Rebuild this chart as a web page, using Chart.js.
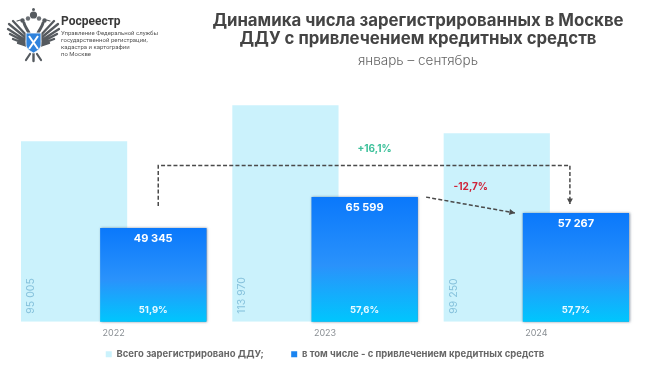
<!DOCTYPE html>
<html lang="ru"><head><meta charset="utf-8">
<style>
html,body{margin:0;padding:0;background:#fff;width:650px;height:365px;overflow:hidden}
#wrap{position:relative;width:650px;height:365px}
canvas{position:absolute;left:0;top:0}
.t{position:absolute;white-space:nowrap;font-family:Roboto,sans-serif}
#title{left:168px;width:500px;top:11px;text-align:center;font-family:Inter,sans-serif;font-weight:700;font-size:16.800px;line-height:18px;color:#444}
#sub{left:168px;width:500px;top:52px;text-align:center;font-family:Inter,sans-serif;font-weight:300;font-size:13.500px;color:#666}
#org{left:61px;top:14px;font-weight:700;font-size:12px;color:#3a3a3a}
#org2{left:61px;top:29px;font-size:6px;line-height:7px;color:#555}
#logo{position:absolute;left:0;top:0}
</style></head><body>
<div id="wrap">
<canvas id="c" width="650" height="365"></canvas>
<svg id="logo" width="60" height="65" viewBox="0 0 60 65">
<defs>
<g id="wing" fill="none" stroke="#555a5f" stroke-linecap="round">
<path d="M27 36 13 21M26 38 9 24M25 40 8 29M25 42 10 34M26 44 13 39M27 46 18 43" stroke-width="2.300"/>
<path d="M29 33C27 29 25 27 24 23" stroke-width="3"/>
<circle cx="22.500" cy="20.500" r="2.200" fill="#555a5f" stroke="none"/>
<path d="M20.500 20 17 21" stroke-width="1.200"/>
<path d="M30 54 26 60" stroke-width="2.200"/>
</g>
</defs>
<use href="#wing"/>
<use href="#wing" transform="translate(67 0) scale(-1 1)"/>
<path d="M33.500 54v7" stroke="#555a5f" stroke-width="2.400" stroke-linecap="round"/>
<circle cx="33.500" cy="15" r="3.600" fill="#555a5f"/>
<circle cx="33.500" cy="9.500" r="1.500" fill="#555a5f"/>
<circle cx="28" cy="18.500" r="2.200" fill="#6b7075"/><circle cx="39" cy="18.500" r="2.200" fill="#6b7075"/>
<path d="M26 33h15v11c0 5-4 7-7.500 9-3.500-2-7.500-4-7.500-9z" fill="#2f83dc" stroke="#fff" stroke-width=".8"/>
<path d="M29 36l9 13M38 36l-9 13" stroke="#fff" stroke-width="2"/>
</svg>
<div class="t" id="org">Росреестр</div>
<div class="t" id="org2">Управление Федеральной службы<br>государственной регистрации,<br>кадастра и картографии<br>по Москве</div>
<div class="t" id="title">Динамика числа зарегистрированных в Москве<br>ДДУ с привлечением кредитных средств</div>
<div class="t" id="sub">январь – сентябрь</div>
</div>
<script src="https://cdn.jsdelivr.net/npm/chart.js@4/dist/chart.umd.min.js"></script>
<script>
const categories = ['2022', '2023', '2024'];
const totalLabel = 'Всего зарегистрировано ДДУ;';
const creditLabel = 'в том числе - с привлечением кредитных средств';
const totalValues = [95005, 113970, 99250];
const creditValues = [49345, 65599, 57267];
const creditShares = ['51,9%', '57,6%', '57,7%'];
const changeAll = '+16,1%';
const changeLast = '-12,7%';

const fmt = v => String(v).replace(/\B(?=(\d{3})+$)/g, ' ');

function creditGradient(ctx) {
  const chart = ctx.chart, a = chart.chartArea;
  if (!a) return '#1a84f0';
  const v = ctx.parsed ? ctx.parsed.y : creditValues[ctx.dataIndex];
  const y = chart.scales.y;
  const g = chart.ctx.createLinearGradient(0, y.getPixelForValue(v), 0, y.getPixelForValue(0));
  g.addColorStop(0, '#0a78fb');
  g.addColorStop(0.55, '#2a92fb');
  g.addColorStop(1, '#00c6fd');
  return g;
}

function dashed(c, pts, color) {
  c.save();
  c.strokeStyle = color; c.lineWidth = 1.5; c.setLineDash([4, 2.2]);
  c.beginPath();
  pts.forEach((p, i) => i ? c.lineTo(p[0], p[1]) : c.moveTo(p[0], p[1]));
  c.stroke();
  c.setLineDash([]);
  const [a, b] = pts.slice(-2);
  const ang = Math.atan2(b[1] - a[1], b[0] - a[0]), L = 5.5, W = 3;
  c.fillStyle = color;
  c.beginPath();
  c.moveTo(b[0], b[1]);
  c.lineTo(b[0] - L * Math.cos(ang) + W * Math.sin(ang), b[1] - L * Math.sin(ang) - W * Math.cos(ang));
  c.lineTo(b[0] - L * Math.cos(ang) - W * Math.sin(ang), b[1] - L * Math.sin(ang) + W * Math.cos(ang));
  c.closePath(); c.fill();
  c.restore();
}

const overlayPlugin = {
  id: 'overlay',
  afterDatasetsDraw(chart) {
    const c = chart.ctx, y = chart.scales.y;
    const light = chart.getDatasetMeta(0).data, dark = chart.getDatasetMeta(1).data;
    const base = y.getPixelForValue(0);

    c.save();
    c.shadowColor = 'rgba(40,60,90,0.55)'; c.shadowBlur = 2.5; c.shadowOffsetX = 0.6; c.shadowOffsetY = 0;
    chart.getDatasetMeta(1).controller.draw();
    c.restore();

    c.textBaseline = 'middle';
    light.forEach((b, i) => {
      c.save();
      c.translate(b.x - b.width / 2 + 10, base - 8);
      c.rotate(-Math.PI / 2);
      c.font = '400 10.5px Inter, sans-serif';
      c.fillStyle = '#86c2dc';
      c.textAlign = 'left';
      c.fillText(fmt(totalValues[i]), 0, 0);
      c.restore();
    });
    c.textAlign = 'center';
    dark.forEach((b, i) => {
      c.fillStyle = '#fff';
      c.font = '700 11px Inter, sans-serif';
      c.fillText(fmt(creditValues[i]), b.x, b.y + 11);
      c.font = '700 9.5px Inter, sans-serif';
      c.fillStyle = '#eafaff';
      c.fillText(creditShares[i], b.x, base - 11.5);
    });

    const top = y.getPixelForValue(82300);
    dashed(c, [[dark[0].x + 5, dark[0].y - 22], [dark[0].x + 5, top], [dark[2].x - 6, top], [dark[2].x - 6, dark[2].y - 9]], '#4a4a4a');
    dashed(c, [[dark[1].x + 61.5, dark[1].y], [dark[2].x - 61, dark[2].y]], '#4a4a4a');

    c.font = '700 10px Inter, sans-serif';
    c.fillStyle = '#3cc09a';
    c.fillText(changeAll, dark[1].x + 10, top - 16);
    c.fillStyle = '#cf2338';
    c.fillText(changeLast, light[2].x - 26, dark[2].y - 26);
  }
};

new Chart(document.getElementById('c'), {
  type: 'bar',
  data: {
    labels: categories,
    datasets: [
      { label: totalLabel, data: totalValues, backgroundColor: '#cbf2fc' },
      { label: creditLabel, data: creditValues, backgroundColor: creditGradient }
    ]
  },
  options: {
    responsive: false,
    animation: false,
    events: [],
    categoryPercentage: 0.749,
    barPercentage: 1.342,
    layout: { padding: { left: 8, right: 8, top: 90, bottom: -4 } },
    scales: {
      x: {
        grid: { display: false, tickLength: 0 }, border: { display: false },
        ticks: { color: '#8a8f94', font: { family: 'Inter, sans-serif', size: 9 }, padding: 6 }
      },
      y: { display: false, min: 0, max: 122000 }
    },
    plugins: {
      tooltip: { enabled: false },
      legend: {
        position: 'bottom',
        labels: {
          boxWidth: 6, boxHeight: 6, padding: 5,
          color: '#666',
          font: { family: 'Inter, sans-serif', size: 9.5, weight: '700' },
          generateLabels: () => [
            { text: totalLabel + '\u00a0'.repeat(10), fillStyle: '#cbf2fc', strokeStyle: '#cbf2fc', lineWidth: 0, fontColor: '#666', datasetIndex: 0 },
            { text: creditLabel, fillStyle: '#1a84f0', strokeStyle: '#1a84f0', lineWidth: 0, fontColor: '#666', datasetIndex: 1 }
          ]
        }
      }
    }
  },
  plugins: [overlayPlugin]
});
</script>
</body></html>
